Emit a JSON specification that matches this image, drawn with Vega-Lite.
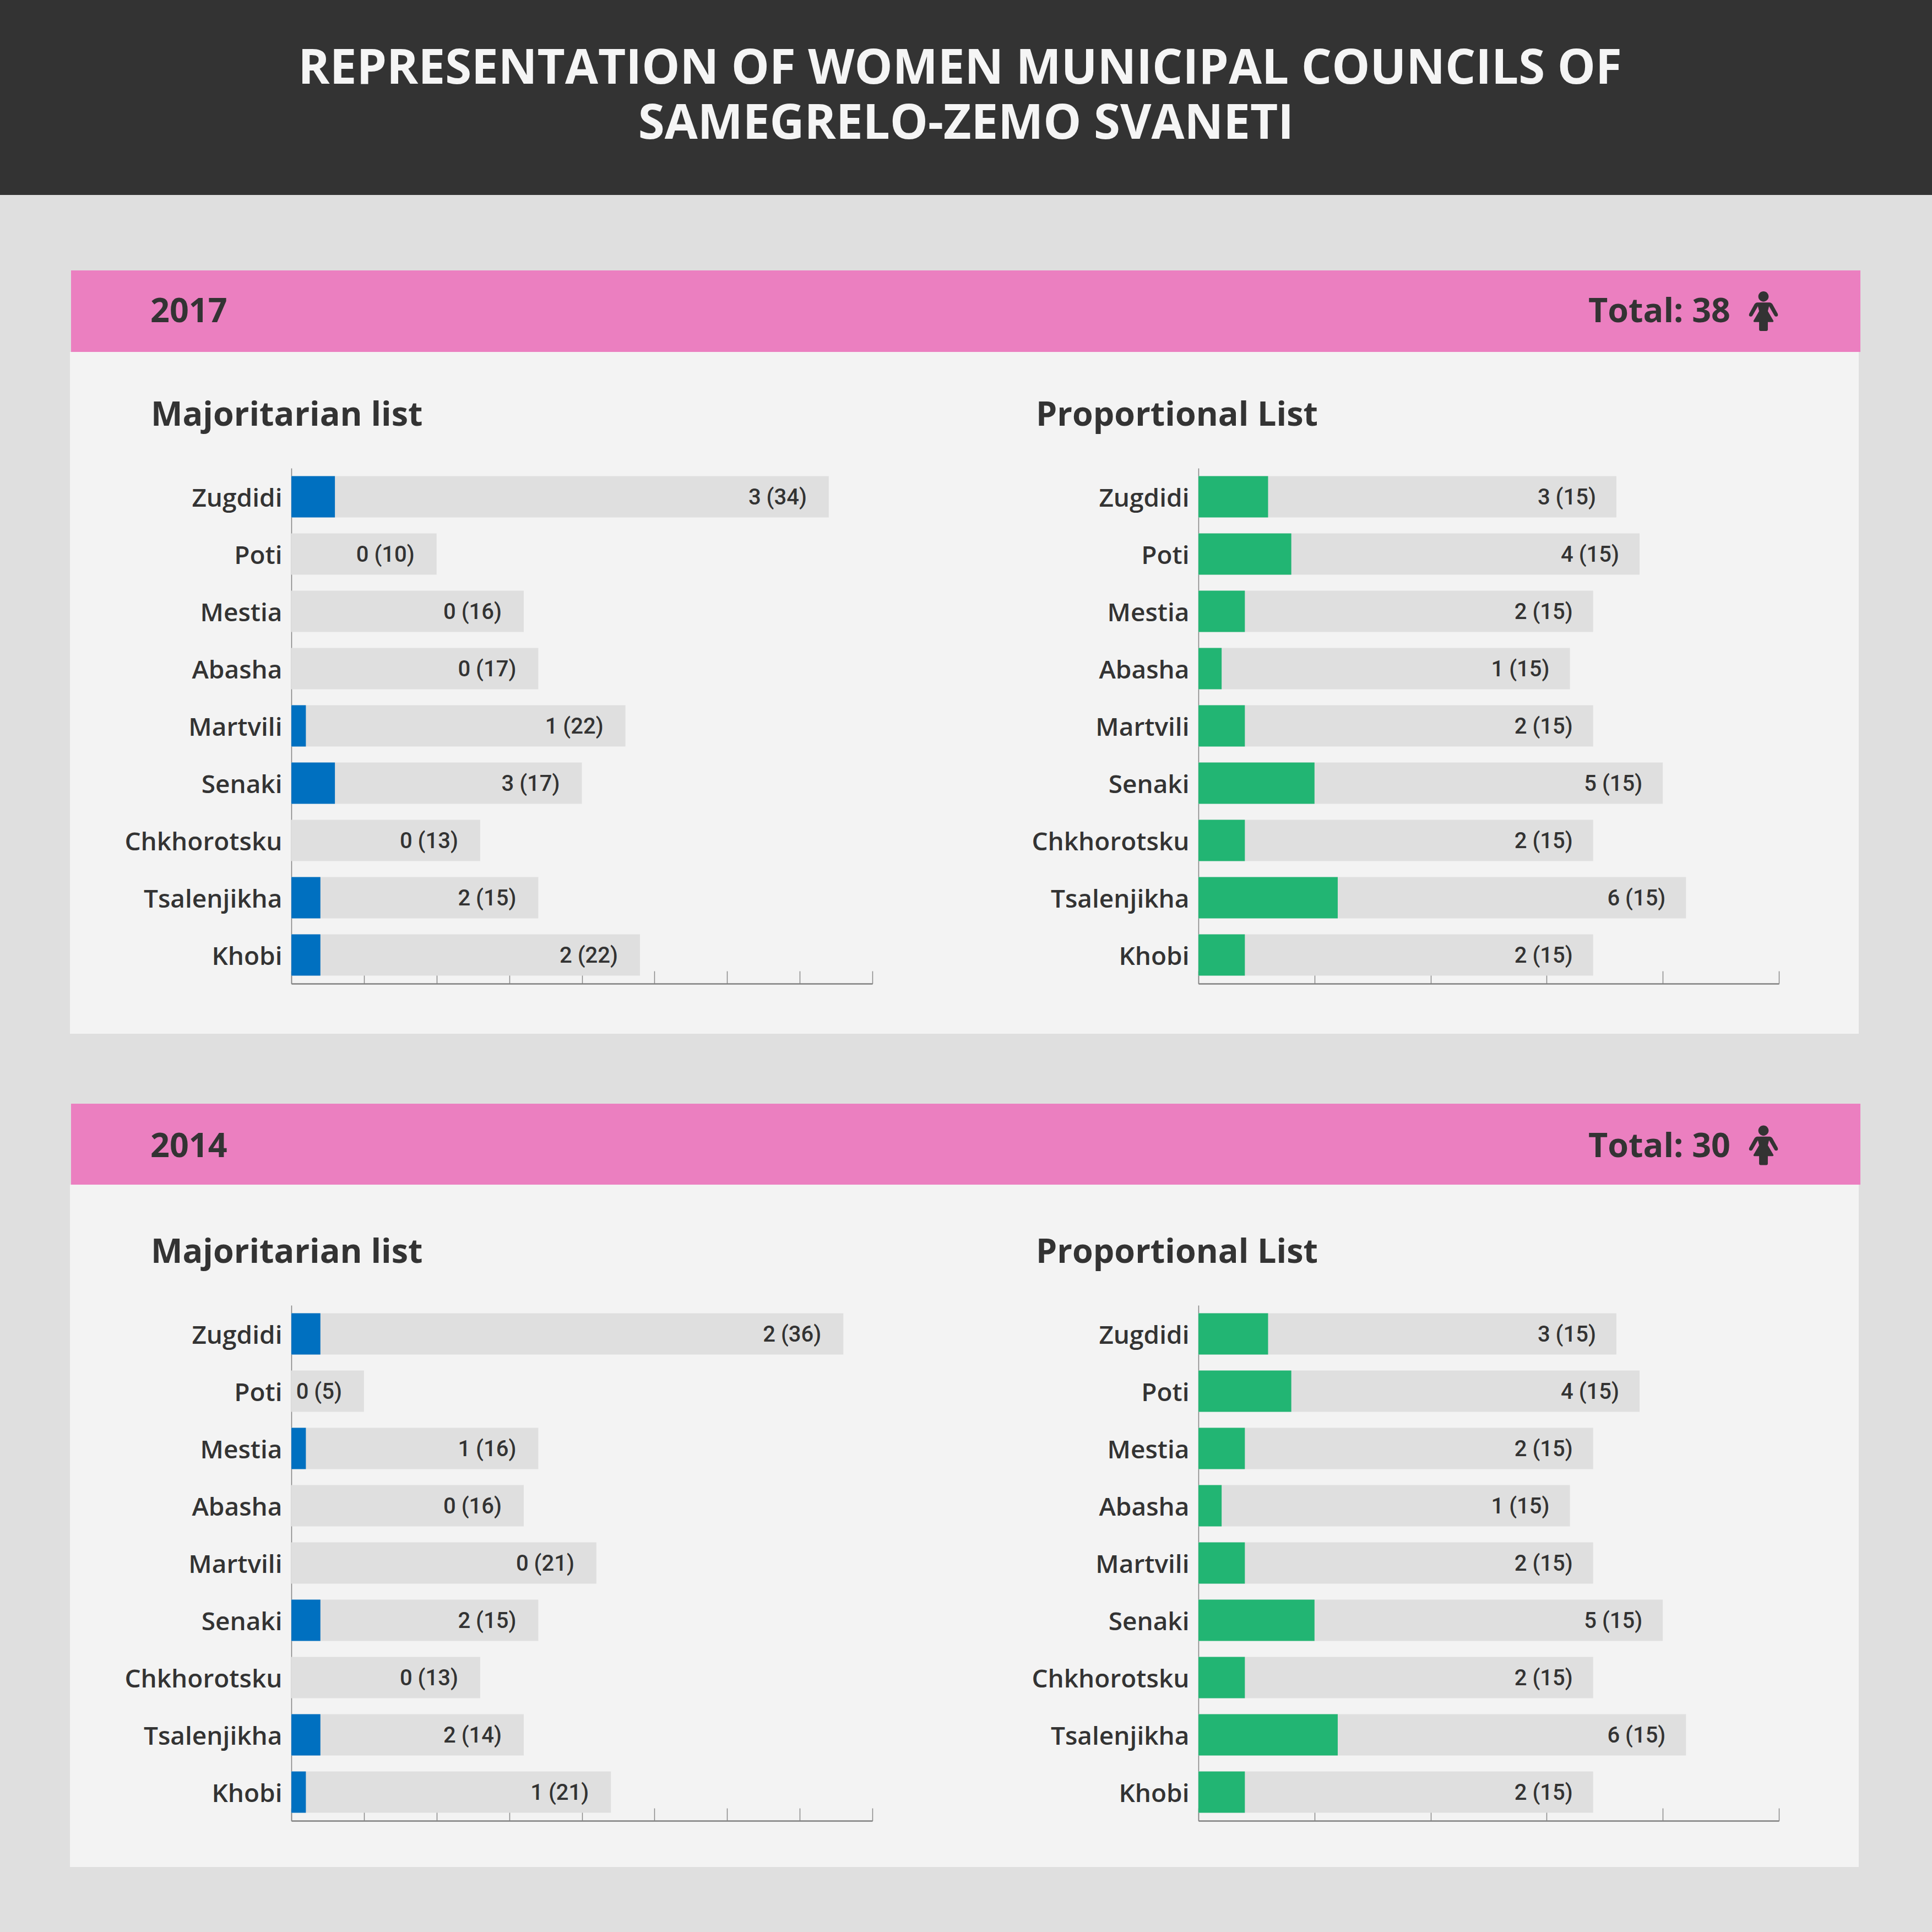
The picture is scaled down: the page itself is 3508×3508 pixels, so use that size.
{
  "$schema": "https://vega.github.io/schema/vega-lite/v6.json",
  "padding": 0,
  "background": "#dfdfdf",
  "config": {
    "view": {"stroke": null},
    "axisX": {"title": null, "labels": false, "grid": false, "tickSize": -23, "tickColor": "#888888", "tickWidth": 1.5, "domainColor": "#808080", "domainWidth": 2.5},
    "axisY": {"title": null, "ticks": false, "grid": false, "domainColor": "#808080", "domainWidth": 1.5, "labelFont": "Open Sans", "labelFontSize": 46, "labelFontWeight": 600, "labelColor": "#333333", "labelPadding": 17, "labelLimit": 800, "labelOffset": 4},
    "title": {"font": "Open Sans", "fontSize": 61, "fontWeight": 700, "color": "#333333", "anchor": "start", "frame": "group", "baseline": "alphabetic"}
  },
  "datasets": {
    "heading": [
      {"line": "REPRESENTATION OF WOMEN MUNICIPAL COUNCILS OF", "row": 1},
      {"line": "SAMEGRELO-ZEMO SVANETI", "row": 2}
    ],
    "band2017": [{"slot": "year", "text": "2017"}, {"slot": "total", "text": "Total: 38"}],
    "band2014": [{"slot": "year", "text": "2014"}, {"slot": "total", "text": "Total: 30"}],
    "maj2017": [
      {"district": "Zugdidi", "women": 3, "others": 34, "total": 37, "label": "3 (34)"},
      {"district": "Poti", "women": 0, "others": 10, "total": 10, "label": "0 (10)"},
      {"district": "Mestia", "women": 0, "others": 16, "total": 16, "label": "0 (16)"},
      {"district": "Abasha", "women": 0, "others": 17, "total": 17, "label": "0 (17)"},
      {"district": "Martvili", "women": 1, "others": 22, "total": 23, "label": "1 (22)"},
      {"district": "Senaki", "women": 3, "others": 17, "total": 20, "label": "3 (17)"},
      {"district": "Chkhorotsku", "women": 0, "others": 13, "total": 13, "label": "0 (13)"},
      {"district": "Tsalenjikha", "women": 2, "others": 15, "total": 17, "label": "2 (15)"},
      {"district": "Khobi", "women": 2, "others": 22, "total": 24, "label": "2 (22)"}
    ],
    "maj2014": [
      {"district": "Zugdidi", "women": 2, "others": 36, "total": 38, "label": "2 (36)"},
      {"district": "Poti", "women": 0, "others": 5, "total": 5, "label": "0 (5)"},
      {"district": "Mestia", "women": 1, "others": 16, "total": 17, "label": "1 (16)"},
      {"district": "Abasha", "women": 0, "others": 16, "total": 16, "label": "0 (16)"},
      {"district": "Martvili", "women": 0, "others": 21, "total": 21, "label": "0 (21)"},
      {"district": "Senaki", "women": 2, "others": 15, "total": 17, "label": "2 (15)"},
      {"district": "Chkhorotsku", "women": 0, "others": 13, "total": 13, "label": "0 (13)"},
      {"district": "Tsalenjikha", "women": 2, "others": 14, "total": 16, "label": "2 (14)"},
      {"district": "Khobi", "women": 1, "others": 21, "total": 22, "label": "1 (21)"}
    ],
    "prop": [
      {"district": "Zugdidi", "women": 3, "others": 15, "total": 18, "label": "3 (15)"},
      {"district": "Poti", "women": 4, "others": 15, "total": 19, "label": "4 (15)"},
      {"district": "Mestia", "women": 2, "others": 15, "total": 17, "label": "2 (15)"},
      {"district": "Abasha", "women": 1, "others": 15, "total": 16, "label": "1 (15)"},
      {"district": "Martvili", "women": 2, "others": 15, "total": 17, "label": "2 (15)"},
      {"district": "Senaki", "women": 5, "others": 15, "total": 20, "label": "5 (15)"},
      {"district": "Chkhorotsku", "women": 2, "others": 15, "total": 17, "label": "2 (15)"},
      {"district": "Tsalenjikha", "women": 6, "others": 15, "total": 21, "label": "6 (15)"},
      {"district": "Khobi", "women": 2, "others": 15, "total": 17, "label": "2 (15)"}
    ],
    "none": []
  },
  "vconcat": [
    {
      "width": 3508,
      "height": 354,
      "view": {"fill": "#333333", "stroke": null},
      "data": {"name": "heading"},
      "encoding": {
        "y": {"field": "row", "type": "ordinal", "axis": null, "scale": {"type": "point", "padding": 0, "range": [126, 226]}},
        "text": {"field": "line"}
      },
      "layer": [
        {"transform": [{"filter": "datum.row == 1"}], "mark": {"type": "text", "font": "Open Sans", "fontSize": 87, "fontWeight": 700, "color": "#f5f5f5", "dx": -11}},
        {"transform": [{"filter": "datum.row == 2"}], "mark": {"type": "text", "font": "Open Sans", "fontSize": 87, "fontWeight": 700, "color": "#f5f5f5"}}
      ]
    },
    {"width": 1, "height": 137, "data": {"name": "none"}, "mark": "rect", "encoding": {}},
    {
      "spacing": 0,
      "hconcat": [
        {"width": 129, "height": 1, "data": {"name": "none"}, "mark": "rect", "encoding": {}},
        {
          "width": 3249,
          "height": 148,
          "view": {"fill": "#eb7fc0", "stroke": null},
          "data": {"name": "band2017"},
          "encoding": {
            "x": {"field": "slot", "type": "ordinal", "axis": null, "scale": {"type": "point", "padding": 0, "domain": ["year", "total"], "range": [144, 3013]}}
          },
          "layer": [
            {"transform": [{"filter": "datum.slot == 'year'"}], "mark": {"type": "text", "align": "left", "dy": 2, "font": "Open Sans", "fontSize": 61, "fontWeight": 700, "color": "#333333"}, "encoding": {"text": {"field": "text"}}},
            {"transform": [{"filter": "datum.slot == 'total'"}], "mark": {"type": "text", "align": "right", "dy": 2, "font": "Open Sans", "fontSize": 61, "fontWeight": 700, "color": "#333333"}, "encoding": {"text": {"field": "text"}}},
            {"transform": [{"filter": "datum.slot == 'total'"}], "mark": {"type": "point", "filled": true, "opacity": 1, "color": "#333333", "size": 5184, "xOffset": 60, "shape": "M0 -1A.26 .26 0 1 1 0 -.48A.26 .26 0 1 1 0 -1ZM-.3 -.44L.3 -.44Q.4 -.44 .46 -.34L.72 .13Q.76 .26 .65 .27Q.58 .28 .54 .2L.28 -.25L.22 0L.5 .48Q.52 .55 .45 .55L.22 .55L.22 .92Q.22 1 .14 1L-.14 1Q-.22 1 -.22 .92L-.22 .55L-.45 .55Q-.52 .55 -.5 .48L-.22 0L-.28 -.25L-.54 .2Q-.58 .28 -.65 .27Q-.76 .26 -.72 .13L-.46 -.34Q-.4 -.44 -.3 -.44Z"}}
          ]
        }
      ]
    },
    {
      "spacing": 0,
      "hconcat": [
        {"width": 127, "height": 1, "data": {"name": "none"}, "mark": "rect", "encoding": {}},
        {
          "width": 1624,
          "height": 1238,
          "view": {"fill": "#f3f3f3", "stroke": null},
          "title": {"text": "Majoritarian list", "offset": -147, "dx": 147},
          "data": {"name": "maj2017"},
          "encoding": {
            "y": {"field": "district", "type": "nominal", "sort": null, "scale": {"range": [211, 1147], "paddingInner": 0.279, "paddingOuter": 0.14}, "axis": {"offset": -402}}
          },
          "layer": [
            {"mark": {"type": "bar", "color": "#dfdfdf"}, "encoding": {"x": {"field": "total", "type": "quantitative", "scale": {"domain": [0, 40], "nice": false, "range": [402, 1457]}, "axis": {"values": [0, 5, 10, 15, 20, 25, 30, 35, 40], "offset": -91}}}},
            {"mark": {"type": "bar", "color": "#0070c0"}, "encoding": {"x": {"field": "women", "type": "quantitative"}}},
            {"mark": {"type": "text", "align": "right", "dx": -40, "dy": 2, "font": "Roboto", "fontWeight": 500, "fontSize": 40, "color": "#333333"}, "encoding": {"x": {"field": "total", "type": "quantitative"}, "text": {"field": "label"}}}
          ]
        },
        {
          "width": 1624,
          "height": 1238,
          "view": {"fill": "#f3f3f3", "stroke": null},
          "title": {"text": "Proportional List", "offset": -147, "dx": 130},
          "data": {"name": "prop"},
          "encoding": {
            "y": {"field": "district", "type": "nominal", "sort": null, "scale": {"range": [211, 1147], "paddingInner": 0.279, "paddingOuter": 0.14}, "axis": {"offset": -425}}
          },
          "layer": [
            {"mark": {"type": "bar", "color": "#dfdfdf"}, "encoding": {"x": {"field": "total", "type": "quantitative", "scale": {"domain": [0, 25], "nice": false, "range": [425, 1479]}, "axis": {"values": [0, 5, 10, 15, 20, 25], "offset": -91}}}},
            {"mark": {"type": "bar", "color": "#22b573"}, "encoding": {"x": {"field": "women", "type": "quantitative"}}},
            {"mark": {"type": "text", "align": "right", "dx": -37, "dy": 2, "font": "Roboto", "fontWeight": 500, "fontSize": 40, "color": "#333333"}, "encoding": {"x": {"field": "total", "type": "quantitative"}, "text": {"field": "label"}}}
          ]
        }
      ]
    },
    {"width": 1, "height": 127, "data": {"name": "none"}, "mark": "rect", "encoding": {}},
    {
      "spacing": 0,
      "hconcat": [
        {"width": 129, "height": 1, "data": {"name": "none"}, "mark": "rect", "encoding": {}},
        {
          "width": 3249,
          "height": 147,
          "view": {"fill": "#eb7fc0", "stroke": null},
          "data": {"name": "band2014"},
          "encoding": {
            "x": {"field": "slot", "type": "ordinal", "axis": null, "scale": {"type": "point", "padding": 0, "domain": ["year", "total"], "range": [144, 3013]}}
          },
          "layer": [
            {"transform": [{"filter": "datum.slot == 'year'"}], "mark": {"type": "text", "align": "left", "dy": 5, "font": "Open Sans", "fontSize": 61, "fontWeight": 700, "color": "#333333"}, "encoding": {"text": {"field": "text"}}},
            {"transform": [{"filter": "datum.slot == 'total'"}], "mark": {"type": "text", "align": "right", "dy": 5, "font": "Open Sans", "fontSize": 61, "fontWeight": 700, "color": "#333333"}, "encoding": {"text": {"field": "text"}}},
            {"transform": [{"filter": "datum.slot == 'total'"}], "mark": {"type": "point", "filled": true, "opacity": 1, "color": "#333333", "size": 5184, "xOffset": 60, "yOffset": 2, "shape": "M0 -1A.26 .26 0 1 1 0 -.48A.26 .26 0 1 1 0 -1ZM-.3 -.44L.3 -.44Q.4 -.44 .46 -.34L.72 .13Q.76 .26 .65 .27Q.58 .28 .54 .2L.28 -.25L.22 0L.5 .48Q.52 .55 .45 .55L.22 .55L.22 .92Q.22 1 .14 1L-.14 1Q-.22 1 -.22 .92L-.22 .55L-.45 .55Q-.52 .55 -.5 .48L-.22 0L-.28 -.25L-.54 .2Q-.58 .28 -.65 .27Q-.76 .26 -.72 .13L-.46 -.34Q-.4 -.44 -.3 -.44Z"}}
          ]
        }
      ]
    },
    {
      "spacing": 0,
      "hconcat": [
        {"width": 127, "height": 1, "data": {"name": "none"}, "mark": "rect", "encoding": {}},
        {
          "width": 1624,
          "height": 1239,
          "view": {"fill": "#f3f3f3", "stroke": null},
          "title": {"text": "Majoritarian list", "offset": -155, "dx": 147},
          "data": {"name": "maj2014"},
          "encoding": {
            "y": {"field": "district", "type": "nominal", "sort": null, "scale": {"range": [219, 1155], "paddingInner": 0.279, "paddingOuter": 0.14}, "axis": {"offset": -402}}
          },
          "layer": [
            {"mark": {"type": "bar", "color": "#dfdfdf"}, "encoding": {"x": {"field": "total", "type": "quantitative", "scale": {"domain": [0, 40], "nice": false, "range": [402, 1457]}, "axis": {"values": [0, 5, 10, 15, 20, 25, 30, 35, 40], "offset": -84}}}},
            {"mark": {"type": "bar", "color": "#0070c0"}, "encoding": {"x": {"field": "women", "type": "quantitative"}}},
            {"mark": {"type": "text", "align": "right", "dx": -40, "dy": 2, "font": "Roboto", "fontWeight": 500, "fontSize": 40, "color": "#333333"}, "encoding": {"x": {"field": "total", "type": "quantitative"}, "text": {"field": "label"}}}
          ]
        },
        {
          "width": 1624,
          "height": 1239,
          "view": {"fill": "#f3f3f3", "stroke": null},
          "title": {"text": "Proportional List", "offset": -155, "dx": 130},
          "data": {"name": "prop"},
          "encoding": {
            "y": {"field": "district", "type": "nominal", "sort": null, "scale": {"range": [219, 1155], "paddingInner": 0.279, "paddingOuter": 0.14}, "axis": {"offset": -425}}
          },
          "layer": [
            {"mark": {"type": "bar", "color": "#dfdfdf"}, "encoding": {"x": {"field": "total", "type": "quantitative", "scale": {"domain": [0, 25], "nice": false, "range": [425, 1479]}, "axis": {"values": [0, 5, 10, 15, 20, 25], "offset": -84}}}},
            {"mark": {"type": "bar", "color": "#22b573"}, "encoding": {"x": {"field": "women", "type": "quantitative"}}},
            {"mark": {"type": "text", "align": "right", "dx": -37, "dy": 2, "font": "Roboto", "fontWeight": 500, "fontSize": 40, "color": "#333333"}, "encoding": {"x": {"field": "total", "type": "quantitative"}, "text": {"field": "label"}}}
          ]
        }
      ]
    },
    {"width": 1, "height": 118, "data": {"name": "none"}, "mark": "rect", "encoding": {}}
  ],
  "spacing": 0
}
